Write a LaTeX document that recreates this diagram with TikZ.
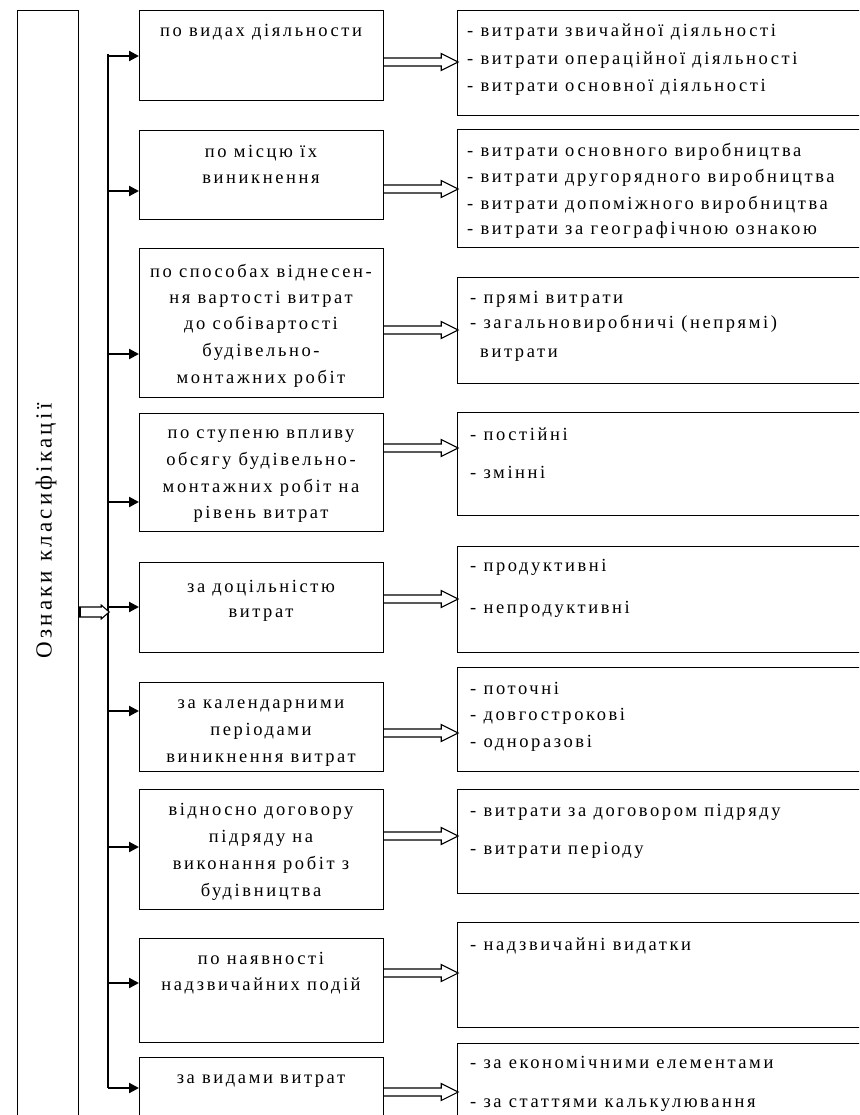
\documentclass[tikz,border=0pt]{standalone}
\usepackage{fontspec}
\setmainfont{Liberation Serif}[LetterSpace=14]
\usetikzlibrary{arrows.meta}
\tikzset{
  box/.style={draw, line width=1.2pt, inner sep=0pt, anchor=north west},
  farrow/.style={line width=2.2pt, -{Triangle[length=10pt,width=10pt]}},
  hollow/.style={draw, line width=1.1pt, fill=white, line join=miter},
  mtxt/.style={font=\fontsize{18.5}{20}\selectfont, anchor=base, inner sep=0pt},
  rtxt/.style={font=\fontsize{18.5}{20}\selectfont, anchor=base west, inner sep=0pt},
  bus/.style={line width=1.6pt}
}
\begin{document}
\begin{tikzpicture}[x=1pt,y=-1pt]
\useasboundingbox (0,0) rectangle (859,1115);
\clip (0,0) rectangle (859,1115);
% left box
\node[box, minimum width=61pt, minimum height=1130pt] (L) at (17,10) {};
\node[rotate=90, font=\fontsize{23}{25}\selectfont, inner sep=0pt] (Ltxt) at (46,531) {Ознаки класифікації};
% middle boxes
\node[box, minimum width=244pt, minimum height=90pt]  (m1) at (139,10) {};
\node[box, minimum width=244pt, minimum height=89pt]  (m2) at (139,130) {};
\node[box, minimum width=244pt, minimum height=149pt] (m3) at (139,248) {};
\node[box, minimum width=244pt, minimum height=118pt] (m4) at (139,413) {};
\node[box, minimum width=244pt, minimum height=90pt]  (m5) at (139,562) {};
\node[box, minimum width=244pt, minimum height=89pt]  (m6) at (139,682) {};
\node[box, minimum width=244pt, minimum height=120pt] (m7) at (139,789) {};
\node[box, minimum width=244pt, minimum height=104pt] (m8) at (139,938) {};
\node[box, minimum width=244pt, minimum height=90pt]  (m9) at (139,1057) {};
% right boxes
\node[box, minimum width=420pt, minimum height=105pt] (r1) at (457,10) {};
\node[box, minimum width=420pt, minimum height=118pt] (r2) at (457,129) {};
\node[box, minimum width=420pt, minimum height=106pt] (r3) at (457,277) {};
\node[box, minimum width=420pt, minimum height=103pt] (r4) at (457,412) {};
\node[box, minimum width=420pt, minimum height=106pt] (r5) at (457,546) {};
\node[box, minimum width=420pt, minimum height=104pt] (r6) at (457,667) {};
\node[box, minimum width=420pt, minimum height=104pt] (r7) at (457,789) {};
\node[box, minimum width=420pt, minimum height=105pt] (r8) at (457,922) {};
\node[box, minimum width=420pt, minimum height=90pt]  (r9) at (457,1043) {};
% middle texts
\foreach \t/\y [count=\i] in {
  {по видах діяльности}/37,
  {по місцю їх}/158, {виникнення}/184,
  {по способах віднесен-}/277, {ня вартості витрат}/303, {до собівартості}/329, {будівельно-}/356, {монтажних робіт}/383,
  {по ступеню впливу}/438, {обсягу будівельно-}/465, {монтажних робіт на}/492, {рівень витрат}/518,
  {за доцільністю}/592, {витрат}/617,
  {за календарними}/708, {періодами}/735, {виникнення витрат}/762,
  {відносно договору}/815, {підряду на}/842, {виконання робіт з}/869, {будівництва}/896,
  {по наявності}/964, {надзвичайних подій}/990,
  {за видами витрат}/1083}
  \node[mtxt] (mt\i) at (261,\y) {\t};
% right texts
\foreach \t/\x/\y [count=\i] in {
  {- витрати звичайної діяльності}/467/37, {- витрати операційної діяльності}/467/65, {- витрати основної діяльності}/467/92,
  {- витрати основного виробництва}/467/157, {- витрати другорядного виробництва}/467/183, {- витрати допоміжного виробництва}/467/210, {- витрати за географічною ознакою}/467/235,
  {- прямі витрати}/470/303, {- загальновиробничі (непрямі)}/470/328, {витрати}/480/357,
  {- постійні}/470/440, {- змінні}/470/478,
  {- продуктивні}/470/571, {- непродуктивні}/470/613,
  {- поточні}/470/694, {- довгострокові}/470/720, {- одноразові}/470/747,
  {- витрати за договором підряду}/470/816, {- витрати періоду}/470/854,
  {- надзвичайні видатки}/470/950,
  {- за економічними елементами}/470/1068, {- за статтями калькулювання}/470/1107}
  \node[rtxt] (rt\i) at (\x,\y) {\t};
% bus
\coordinate (btop) at (108,54);
\coordinate (bbot) at (108,1088);
\draw[bus] (btop) -- (bbot);
\foreach \y [count=\i] in {56,191,354,502,607,711,847,983,1088}
  \draw[farrow] (108,\y) coordinate (b\i) -- (b\i -| m\i.west);
% hollow arrows middle -> right
\foreach \y [count=\i] in {62,189,330,448,599,733,836,973,1092}
  \draw[hollow] (m\i.east |- 0,\y) coordinate (hs\i) ++(0,-4) -- ++(57,0) -- ++(0,-4.5) -- ++(17,8.5) -- ++(-17,8.5) -- ++(0,-4.5) -- ++(-57,0);
% hollow arrow left -> bus
\draw[hollow] (L.east |- 0,612) coordinate (ls) ++(0,-5) -- ++(22,0) -- ++(0,-2) -- ++(8,7) -- ++(-8,7) -- ++(0,-2) -- ++(-22,0);
\draw[line width=2.5pt] (ls) ++(1,-5) -- ++(0,10);
\end{tikzpicture}
\end{document}
